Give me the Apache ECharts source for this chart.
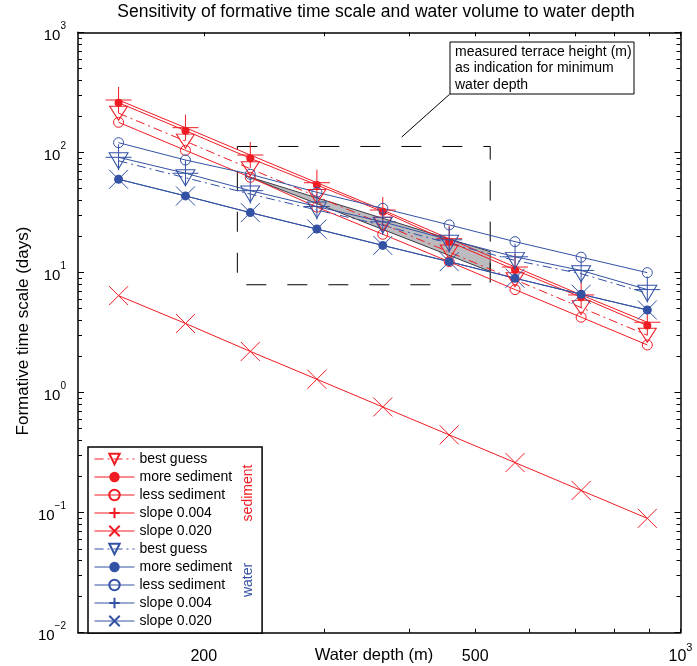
<!DOCTYPE html>
<html><head><meta charset="utf-8">
<script src="https://cdn.jsdelivr.net/npm/echarts@6/dist/echarts.min.js"></script>
<style>html,body{margin:0;padding:0;background:#fff}#c{width:697px;height:666px}</style>
</head><body><div id="c"></div>
<script>
// ---------- data ----------
const depths       = [150, 188, 234, 293, 366, 458, 572, 715, 894];
const sedBest      = [212, 124, 73, 42.9, 25.2, 14.8, 8.7, 5.1, 3.0];
const sedMore      = [259, 151.6, 89.3, 53.5, 32.1, 18.05, 10.5, 6.22, 3.61];
const sedLess      = [178, 104, 62, 35, 20.8, 12.3, 7.2, 4.24, 2.49];
const sedSlope004  = [273, 160.6, 95.1, 55.9, 33.1, 19.1, 11.1, 6.5, 3.85];
const sedSlope020  = [6.41, 3.76, 2.20, 1.29, 0.758, 0.444, 0.261, 0.153, 0.0896];
const watBest      = [85.1, 61.5, 45.0, 33.1, 24.7, 17.5, 12.6, 9.76, 6.71];
const watMore      = [59.7, 43.4, 31.5, 23.0, 16.8, 12.3, 8.95, 6.58, 4.87];
const watLess      = [120.4, 86.4, 65.7, 46.5, 34.2, 24.9, 18.05, 13.4, 9.96];
const watSlope004  = [91, 67, 48, 35.4, 26.4, 18.7, 13.5, 10.4, 7.2];
const watSlope020  = [59.7, 43.4, 31.5, 23.0, 16.8, 12.3, 8.95, 6.58, 4.87];

// shaded range (terrace heights) and dashed box
const patchX = [230, 526, 526];
const patchY = [64, 14.9, 10.2];
const boxX = [224, 526, 526, 224, 224];
const boxY = [112, 112, 7.9, 7.9, 112];
const arrowFrom = [459, 306];
const arrowTo   = [390, 134];

// axes
const xRange = [130.8, 1000];
const yRange = [0.01, 1000];
const xTicks = [200, 300, 400, 500, 600, 700, 800, 900, 1000];
const xTickLabels = [200, 500, 1000];
const yMajor = [0.01, 0.1, 1, 10, 100, 1000];
const yMinorMult = [2, 3, 4, 5, 6, 7, 8, 9];

// ---------- chart ----------
const L = v => Math.log10(v);
const FONT = '"Liberation Sans", Arial, Helvetica, sans-serif';
const RED = '#f01c24', BLUE = '#3452a4';
const SYM_TRI = 'path://M0,0 L20,0 L10,16 Z';
const SYM_PLUS = 'path://M10,0 L10,20 M0,10 L20,10';
const SYM_X = 'path://M0,0 L20,20 M20,0 L0,20';
const DASHDOT = [9, 4, 2, 4];

const yMinor = [];
yMajor.slice(0, -1).forEach(d => yMinorMult.forEach(m => yMinor.push(L(d * m))));

function ls(name, vals, color, o) {
  return {
    name, type: 'line', xAxisIndex: 0, yAxisIndex: 0,
    data: depths.map((d, i) => [L(d), L(vals[i])]),
    symbol: o.symbol, symbolSize: o.size, showSymbol: true,
    lineStyle: { color, width: o.width || 1, type: o.dash || 'solid' },
    itemStyle: o.filled ? { color, borderWidth: 0 }
                        : { color: 'rgba(255,255,255,0)', borderColor: color, borderWidth: 1 },
    emphasis: { disabled: true }, silent: true, animation: false, z: o.z || 3
  };
}

const series = [
  ls('s best guess', sedBest, RED, { symbol: SYM_TRI, size: [18, 14], dash: DASHDOT }),
  ls('s more sediment', sedMore, RED, { symbol: 'circle', size: 8, filled: true }),
  ls('s less sediment', sedLess, RED, { symbol: 'circle', size: 10 }),
  ls('s slope 0.004', sedSlope004, RED, { symbol: SYM_PLUS, size: 26 }),
  ls('s slope 0.020', sedSlope020, RED, { symbol: SYM_X, size: 19 }),
  ls('w best guess', watBest, BLUE, { symbol: SYM_TRI, size: [19, 16], dash: DASHDOT }),
  ls('w more sediment', watMore, BLUE, { symbol: 'circle', size: 9, filled: true }),
  ls('w less sediment', watLess, BLUE, { symbol: 'circle', size: 10 }),
  ls('w slope 0.004', watSlope004, BLUE, { symbol: SYM_PLUS, size: 26 }),
  ls('w slope 0.020', watSlope020, BLUE, { symbol: SYM_X, size: 19 }),
  {
    type: 'custom', xAxisIndex: 0, yAxisIndex: 0, z: 2, silent: true, animation: false,
    data: [[L(patchX[0]), L(patchY[0])]],
    renderItem: (params, api) => ({
      type: 'polygon',
      shape: { points: patchX.map((x, i) => api.coord([L(x), L(patchY[i])])) },
      style: { fill: '#bcbcc0', stroke: '#3c3c44', lineWidth: 1 }
    })
  },
  {
    name: 'box', type: 'line', xAxisIndex: 0, yAxisIndex: 0, z: 2, silent: true, animation: false,
    data: boxX.map((x, i) => [L(x), L(boxY[i])]), symbol: 'none',
    lineStyle: { color: '#000', width: 1, type: [20, 21] },
    markLine: {
      silent: true, animation: false, symbol: ['none', 'arrow'], symbolSize: [0, 9],
      label: { show: false },
      lineStyle: { color: '#000', type: 'solid', width: 1 },
      data: [[{ coord: [L(arrowFrom[0]), L(arrowFrom[1])] }, { coord: [L(arrowTo[0]), L(arrowTo[1])] }]]
    }
  }
];

const mkSup = (bs, ss) => ({
  b: { fontSize: bs, fontFamily: FONT, color: '#000', verticalAlign: 'bottom', lineHeight: 22 },
  s: { fontSize: ss, fontFamily: FONT, color: '#000', verticalAlign: 'top', lineHeight: 22 }
});
const fmtPow = v => {
  const n = Math.round(v);
  return '{b|10}{s|' + (n < 0 ? '\u2212' + (-n) : n) + '}';
};

const AX_LINE = { color: '#000', width: 1.5 };
const baseX = {
  type: 'value', min: L(xRange[0]), max: L(xRange[1]), splitLine: { show: false },
  axisLine: { show: true, onZero: false, lineStyle: AX_LINE },
  axisTick: { show: true, inside: true, length: 4, customValues: xTicks.map(L), lineStyle: { color: '#000' } }
};
const baseY = {
  type: 'value', min: L(yRange[0]), max: L(yRange[1]), splitLine: { show: false },
  axisLine: { show: true, onZero: false, lineStyle: AX_LINE }
};

const option = {
  animation: false,
  backgroundColor: '#fff',
  grid: { left: 78, right: 16.5, top: 32.3, bottom: 33.3 },
  xAxis: [
    Object.assign({}, baseX, {
      position: 'bottom',
      axisLabel: {
        customValues: xTickLabels.map(L), margin: 10, rich: mkSup(16, 11),
        formatter: v => { const r = Math.round(Math.pow(10, v)); return r === 1000 ? fmtPow(3) : '{b|' + r + '}'; }
      }
    }),
    Object.assign({}, baseX, { position: 'top', axisLabel: { show: false } })
  ],
  yAxis: [
    Object.assign({}, baseY, {
      position: 'left',
      axisTick: { show: true, inside: true, length: 6, customValues: yMajor.map(L), lineStyle: { color: '#000' } },
      axisLabel: { customValues: yMajor.map(L), margin: 12, rich: mkSup(15, 10), formatter: fmtPow }
    }),
    Object.assign({}, baseY, {
      position: 'left', axisLine: { show: false, onZero: false },
      axisTick: { show: true, inside: true, length: 4, customValues: yMinor, lineStyle: { color: '#000' } },
      axisLabel: { show: false }
    }),
    Object.assign({}, baseY, {
      position: 'right',
      axisTick: { show: true, inside: true, length: 6, customValues: yMajor.map(L), lineStyle: { color: '#000' } },
      axisLabel: { show: false }
    }),
    Object.assign({}, baseY, {
      position: 'right', axisLine: { show: false, onZero: false },
      axisTick: { show: true, inside: true, length: 4, customValues: yMinor, lineStyle: { color: '#000' } },
      axisLabel: { show: false }
    })
  ],
  legend: {
    orient: 'vertical', left: 88, top: 447,
    itemWidth: 40, itemHeight: 13, itemGap: 4,
    padding: [5, 30, 5, 6],
    borderColor: '#000', borderWidth: 1.5, backgroundColor: '#fff',
    lineStyle: { width: 1 },
    textStyle: { fontSize: 14, fontFamily: FONT, color: '#000', lineHeight: 13 },
    formatter: n => n.replace(/^[sw] /, ''),
    data: series.filter(s => s.name && s.name !== 'box').map(s => s.name),
    selectedMode: false, z: 10
  },
  graphic: [
    { type: 'text', x: 376, y: 12, style: { text: 'Sensitivity of formative time scale and water volume to water depth', fontSize: 17.5, fontFamily: FONT, fill: '#000', align: 'center', verticalAlign: 'middle' } },
    { type: 'text', x: 23, y: 331, rotation: Math.PI / 2, style: { text: 'Formative time scale (days)', fontSize: 17, fontFamily: FONT, fill: '#000', align: 'center', verticalAlign: 'middle' } },
    { type: 'text', x: 374, y: 655, style: { text: 'Water depth (m)', fontSize: 16.5, fontFamily: FONT, fill: '#000', align: 'center', verticalAlign: 'middle' } },
    { type: 'rect', z: 20, shape: { x: 450, y: 42, width: 184, height: 52 }, style: { fill: '#fff', stroke: '#000', lineWidth: 1 } },
    { type: 'text', z: 21, x: 455, y: 43.5, style: { text: 'measured terrace height (m)\nas indication for minimum\nwater depth', fontSize: 14, lineHeight: 16.5, fontFamily: FONT, fill: '#000' } },
    { type: 'text', z: 30, x: 248, y: 493, rotation: Math.PI / 2, style: { text: 'sediment', fontSize: 14, fontFamily: FONT, fill: RED, align: 'center', verticalAlign: 'middle' } },
    { type: 'text', z: 30, x: 248, y: 580, rotation: Math.PI / 2, style: { text: 'water', fontSize: 14, fontFamily: FONT, fill: BLUE, align: 'center', verticalAlign: 'middle' } }
  ],
  series
};

const chart = echarts.init(document.getElementById('c'), null, { renderer: 'canvas' });
chart.setOption(option);
</script>
</body></html>
